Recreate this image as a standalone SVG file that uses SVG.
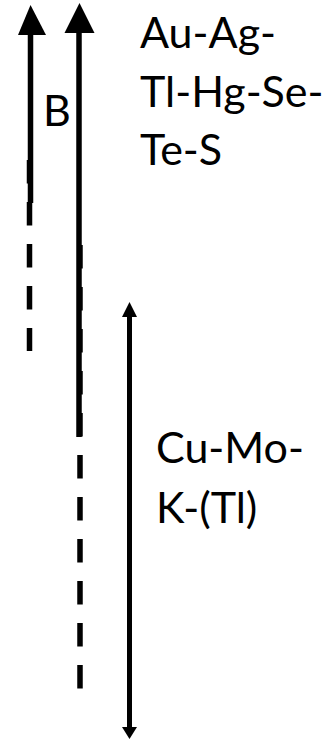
<svg xmlns="http://www.w3.org/2000/svg" width="324" height="740" viewBox="0 0 324 740">
  <style>
    .lbl { font-family: Lato, "Open Sans", "Liberation Sans", sans-serif; font-size: 43px; fill: #000; }
    .solid { stroke: #000; stroke-width: 5.5; fill: none; }
    .dash { stroke: #000; stroke-width: 5.5; fill: none; stroke-dasharray: 23.5 18.5; }
    .thin { stroke: #000; stroke-width: 5; fill: none; }
    .head { fill: #000; }
  </style>
  <rect width="324" height="740" fill="#fff"/>

  <g id="connectors">
    <!-- left arrow B: solid upper part, dashed tail -->
    <g id="arrow-b">
      <line class="solid" x1="30.5" y1="30" x2="30.5" y2="203"/>
      <line class="dash" x1="29.5" y1="160" x2="29.5" y2="351"/>
      <polygon class="head" points="30.5,5 46,35 18,35"/>
    </g>
    <!-- long arrow: solid upper part, dashed tail -->
    <g id="arrow-main">
      <line class="solid" x1="79" y1="28" x2="79" y2="437"/>
      <line class="dash" x1="80" y1="245" x2="80" y2="689"/>
      <polygon class="head" points="79.5,3 94.5,33 64.5,33"/>
    </g>
    <!-- double-headed range arrow -->
    <g id="arrow-range">
      <line class="thin" x1="129.5" y1="312" x2="129.5" y2="730"/>
      <polygon class="head" points="129.5,302 137,317 122,317"/>
      <polygon class="head" points="129.5,739 137,727 122,727"/>
    </g>
  </g>

  <g id="label-b">
    <text class="lbl" x="43" y="126">B</text>
  </g>
  <g id="label-au">
    <text class="lbl" x="140" y="48">Au-Ag-</text>
    <text class="lbl" x="140" y="107">Tl-Hg-Se-</text>
    <text class="lbl" x="140" y="165">Te-S</text>
  </g>
  <g id="label-cu">
    <text class="lbl" x="156" y="463">Cu-Mo-</text>
    <text class="lbl" x="156" y="523">K-(Tl)</text>
  </g>
</svg>
